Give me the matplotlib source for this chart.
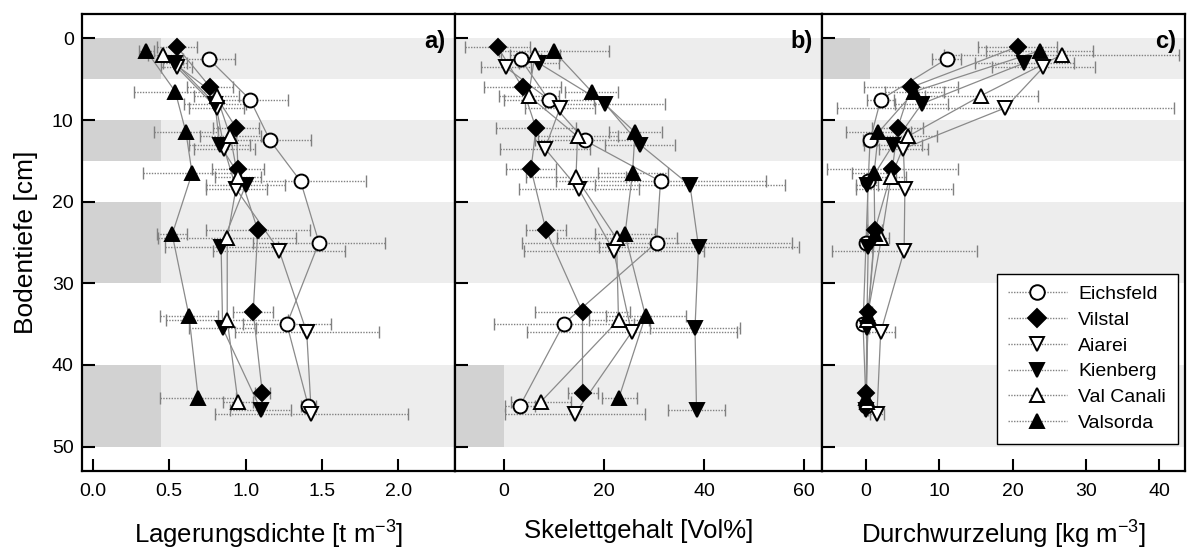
import matplotlib
matplotlib.use("Agg")
import matplotlib.pyplot as plt
from matplotlib.lines import Line2D

plt.rcParams['font.family'] = ['Liberation Sans', 'DejaVu Sans']
plt.rcParams['mathtext.default'] = 'regular'

# sites and sampling depths (cm); each site is drawn with a small depth offset
sites = ["Eichsfeld", "Vilstal", "Aiarei", "Kienberg", "Val Canali", "Valsorda"]
depths = [2.5, 7.5, 12.5, 17.5, 25, 35, 45]
depth_offset = [0.0, -1.5, 1.0, 0.5, -0.5, -1.0]

# a) Lagerungsdichte [t m-3]
dichte = [
    [0.76, 1.03, 1.16, 1.36, 1.48, 1.27, 1.41],
    [0.55, 0.77, 0.94, 0.95, 1.08, 1.05, 1.11],
    [0.55, 0.81, 0.86, 0.94, 1.22, 1.40, 1.43],
    [0.54, 0.80, 0.83, 1.00, 0.84, 0.85, 1.10],
    [0.46, 0.81, 0.90, 0.95, 0.88, 0.88, 0.95],
    [0.35, 0.54, 0.61, 0.65, 0.52, 0.63, 0.69],
]
dichte_err = [
    [0.17, 0.25, 0.27, 0.43, 0.43, 0.29, 0.05],
    [0.13, 0.15, 0.15, 0.17, 0.34, 0.13, 0.05],
    [0.10, 0.18, 0.20, 0.20, 0.43, 0.47, 0.63],
    [0.08, 0.20, 0.20, 0.26, 0.37, 0.22, 0.20],
    [0.10, 0.15, 0.20, 0.15, 0.45, 0.40, 0.10],
    [0.05, 0.27, 0.21, 0.32, 0.10, 0.19, 0.25],
]

# b) Skelettgehalt [Vol%]
skelett = [
    [3.3, 8.9, 16.2, 31.3, 30.5, 11.9, 3.2],
    [-1.3, 3.7, 6.4, 5.4, 8.4, 15.7, 15.7],
    [0.3, 11.2, 8.2, 15.0, 21.9, 25.5, 14.2],
    [6.9, 20.2, 27.2, 37.2, 38.9, 38.2, 38.5],
    [6.2, 4.9, 14.7, 14.4, 22.5, 22.9, 7.4],
    [9.9, 17.5, 26.2, 25.7, 24.2, 28.3, 23.0],
]
skelett_err = [
    [4, 9, 10, 21, 27, 14, 3],
    [6.5, 7.7, 8, 5, 4, 9.5, 3],
    [5, 7, 9, 12, 18, 21, 14],
    [4, 12, 7, 19, 20, 9, 5.7],
    [5, 6, 8, 10, 12, 6, 6],
    [11, 5.3, 5.3, 7, 6, 8, 3.5],
]

# c) Durchwurzelung [kg m-3]
wurzel = [
    [11.0, 2.0, 0.55, 0.3, 0.0, -0.4, 0.0],
    [20.7, 6.1, 4.3, 3.6, 1.2, 0.3, 0.0],
    [24.2, 19.0, 5.1, 5.3, 5.2, 2.0, 1.5],
    [21.6, 7.6, 3.7, 0.2, 0.3, 0.1, 0.0],
    [26.7, 15.7, 5.7, 3.4, 2.1, 0.1, 0.1],
    [23.7, 6.6, 1.7, 1.1, 1.2, 0.3, 0.0],
]
wurzel_err = [
    [2, 1.8, 1, 0.5, 0.5, 0.3, 0.3],
    [5.4, 6.4, 3.5, 8.9, 1, 0.5, 0.3],
    [7, 23, 3.3, 6.6, 9.9, 2, 1],
    [6.7, 3.6, 4, 1.5, 0.5, 0.3, 0.3],
    [16, 7.7, 4, 2, 1, 0.3, 0.3],
    [7.3, 4, 4.4, 3, 1, 0.3, 0.3],
]

markers = ['o', 'D', 'v', 'v', '^', '^']
filled = [False, True, False, True, False, True]

panels = [
    (dichte, dichte_err, "Lagerungsdichte [t m$^{-3}$]", "a)",
     (-0.07, 2.37), [0.0, 0.5, 1.0, 1.5, 2.0], ["0.0", "0.5", "1.0", "1.5", "2.0"]),
    (skelett, skelett_err, "Skelettgehalt [Vol%]", "b)",
     (-9.8, 63.6), [0, 20, 40, 60], ["0", "20", "40", "60"]),
    (wurzel, wurzel_err, "Durchwurzelung [kg m$^{-3}$]", "c)",
     (-6.0, 43.5), [0, 10, 20, 30, 40], ["0", "10", "20", "30", "40"]),
]

bands = [(0, 5), (10, 15), (20, 30), (40, 50)]
# darker shading on the left of some bands (x end in data units)
dark = [
    [(0, 5, 0.45), (10, 15, 0.45), (20, 30, 0.45), (40, 50, 0.45)],
    [(40, 50, 0.0)],
    [(0, 5, 0.5)],
]

W, H = 1192, 554
edges = [(82, 455), (455, 822), (822, 1185)]
line_col = '#8a8a8a'

fig = plt.figure(figsize=(W / 100, H / 100), dpi=100)
axes = []
for i, (vals, errs, xlabel, tag, xlim, xt, xtl) in enumerate(panels):
    l, r = edges[i]
    ax = fig.add_axes([l / W, 1 - 471 / H, (r - l) / W, 457 / H])
    axes.append(ax)

    for y0, y1 in bands:
        ax.axhspan(y0, y1, color='#ededed', lw=0, zorder=0)
    for y0, y1, xe in dark[i]:
        ax.fill_betweenx([y0, y1], xlim[0], xe, color='#d2d2d2', lw=0, zorder=0)

    for k, site in enumerate(sites):
        y = [d + depth_offset[k] for d in depths]
        eb = ax.errorbar(vals[k], y, xerr=errs[k], fmt='none', ecolor='#808080',
                         elinewidth=1.0, capsize=4, capthick=1.0, zorder=2)
        for c in eb[2]:
            c.set_linestyle((0, (1, 1)))
        ax.plot(vals[k], y, '-', color=line_col, lw=0.9, zorder=3)
        ax.plot(vals[k], y, linestyle='none', marker=markers[k],
                ms=8.5 if markers[k] == 'D' else 10,
                mfc='black' if filled[k] else 'white', mec='black', mew=1.4, zorder=4)

    ax.set_xlim(*xlim)
    ax.set_ylim(53, -3)
    ax.set_xticks(xt)
    ax.set_xticklabels(xtl)
    ax.set_yticks([0, 10, 20, 30, 40, 50])
    ax.tick_params(direction='in', length=9, width=1.5, labelsize=14)
    ax.tick_params(axis='x', pad=9)
    ax.tick_params(axis='y', pad=6)
    if i > 0:
        ax.tick_params(labelleft=False)
    for s in ax.spines.values():
        s.set_linewidth(1.6)
    ax.set_xlabel(xlabel, fontsize=18.5, labelpad=13)
    ax.text(0.975, 0.965, tag, transform=ax.transAxes, ha='right', va='top',
            fontsize=17, fontweight='bold')

axes[0].set_ylabel("Bodentiefe [cm]", fontsize=19, labelpad=10)

handles = []
for k, site in enumerate(sites):
    handles.append(Line2D([], [], color='#808080', lw=1.0, linestyle=(0, (1, 1)),
                          marker=markers[k], ms=9 if markers[k] == 'D' else 10.5,
                          mfc='black' if filled[k] else 'white', mec='black', mew=1.4))
leg = axes[2].legend(handles, sites, loc='lower right', bbox_to_anchor=(0.98, 0.06),
                     fontsize=14, labelspacing=0.42, handlelength=3.0, handletextpad=0.6,
                     fancybox=False, edgecolor='black', framealpha=1, borderpad=0.6,
                     borderaxespad=0)
leg.get_frame().set_linewidth(1.0)

fig.savefig("out.png", dpi=100)
